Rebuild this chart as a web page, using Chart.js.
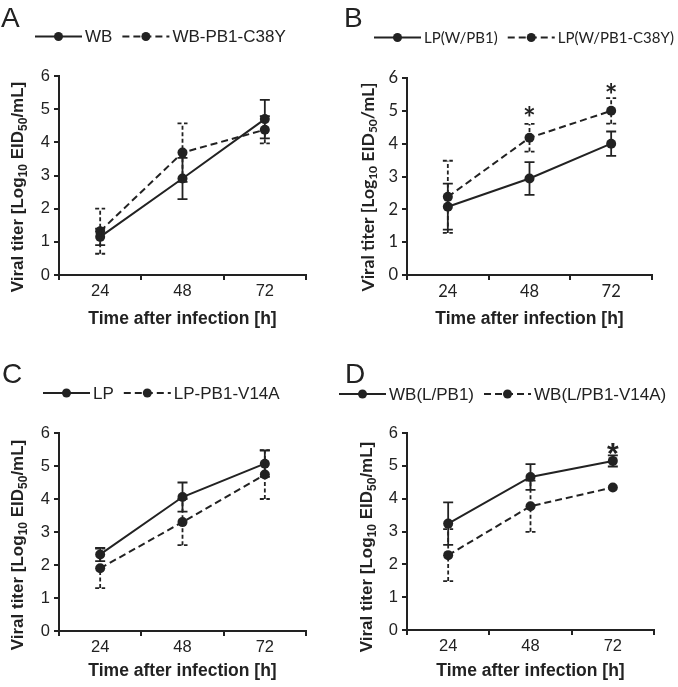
<!DOCTYPE html>
<html><head><meta charset="utf-8">
<script src="https://cdn.jsdelivr.net/npm/chart.js@4.4.1/dist/chart.umd.min.js"></script>
<style>
html,body{margin:0;padding:0;background:#fff;}
#wrap{position:relative;width:678px;height:687px;overflow:hidden;background:#fff;}
canvas{position:absolute;}
</style></head><body>
<div id="wrap">
<canvas id="cA" width="339" height="340" style="left:0;top:0"></canvas>
<canvas id="cB" width="339" height="340" style="left:339px;top:0"></canvas>
<canvas id="cC" width="339" height="347" style="left:0;top:340px"></canvas>
<canvas id="cD" width="339" height="347" style="left:339px;top:340px"></canvas>
</div>
<script>
// ---------- data ----------
const timePoints = ['24', '48', '72'];
const xAxisTitle = 'Time after infection [h]';
const yTitleParts = [['Viral titer [Log', false], ['10', true], [' EID', false], ['50', true], ['/mL]', false]];

// Panel A
const namesA = ['WB', 'WB-PB1-C38Y'];
const solidA = [1.15, 2.91, 4.70];
const solidErrA = [0.25, 0.62, 0.58];
const dashedA = [1.32, 3.69, 4.38];
const dashedErrA = [0.68, 0.88, 0.41];
const starsA = [null, null, null];

// Panel B
const namesB = ['LP(W/PB1)', 'LP(W/PB1-C38Y)'];
const solidB = [2.08, 2.94, 4.00];
const solidErrB = [0.70, 0.50, 0.37];
const dashedB = [2.38, 4.18, 5.00];
const dashedErrB = [1.10, 0.42, 0.39];
const starsB = [null, 4.99, 5.70];

// Panel C
const namesC = ['LP', 'LP-PB1-V14A'];
const solidC = [2.32, 4.06, 5.07];
const solidErrC = [0.20, 0.44, 0.40];
const dashedC = [1.90, 3.30, 4.74];
const dashedErrC = [0.60, 0.70, 0.74];
const starsC = [null, null, null];

// Panel D
const namesD = ['WB(L/PB1)', 'WB(L/PB1-V14A)'];
const solidD = [3.24, 4.66, 5.15];
const solidErrD = [0.65, 0.39, 0.17];
const dashedD = [2.28, 3.77, 4.34];
const dashedErrD = [0.79, 0.78, 0.00];
const starsD = [null, null, 5.62];

// ---------- styling ----------
const INK = '#222222';
const ARIAL = '"Liberation Sans", Arial, sans-serif';
const CALIBRI = 'Lato, "Open Sans", sans-serif';

const decorPlugin = {
  id: 'decor',
  afterDatasetsDraw(chart, args, o) {
    const ctx = chart.ctx;
    const xs = chart.scales.x, ys = chart.scales.y;
    ctx.save();
    // error bars
    chart.data.datasets.forEach(ds => {
      ctx.strokeStyle = INK;
      ctx.lineWidth = 1.8;
      ctx.setLineDash(ds.errDash);
      ds.data.forEach((v, i) => {
        const e = ds.err[i];
        if (!e) return;
        const x = xs.getPixelForValue(i);
        const yl = ys.getPixelForValue(v - e), yh = ys.getPixelForValue(v + e);
        ctx.beginPath();
        ctx.moveTo(x, yl); ctx.lineTo(x, yh);
        ctx.moveTo(x - 5, yl); ctx.lineTo(x + 5, yl);
        ctx.moveTo(x - 5, yh); ctx.lineTo(x + 5, yh);
        ctx.stroke();
      });
    });
    ctx.setLineDash([]);
    // stars
    ctx.fillStyle = INK;
    const ss = 30;
    ctx.font = 'bold ' + ss + 'px ' + o.starFont;
    ctx.textAlign = 'center';
    ctx.textBaseline = 'alphabetic';
    o.stars.forEach((s, i) => {
      if (s === null) return;
      ctx.fillText('*', xs.getPixelForValue(i), ys.getPixelForValue(s) + 0.6 * ss);
    });
    ctx.restore();
  },
  afterDraw(chart, args, o) {
    const ctx = chart.ctx;
    ctx.save();
    ctx.fillStyle = INK;
    // panel letter
    ctx.font = 'normal 28px ' + ARIAL;
    ctx.textAlign = 'left';
    ctx.textBaseline = 'alphabetic';
    ctx.fillText(o.letter, o.letterX, o.letterY);
    // legend
    ctx.font = 'normal ' + o.legendSize + 'px ' + o.legendFont;
    ctx.textBaseline = 'middle';
    let x = o.legendX;
    chart.data.datasets.forEach(ds => {
      ctx.strokeStyle = INK;
      ctx.lineWidth = 2;
      ctx.setLineDash(ds.borderDash);
      ctx.beginPath();
      ctx.moveTo(x, o.legendY); ctx.lineTo(x + 47, o.legendY);
      ctx.stroke();
      ctx.setLineDash([]);
      ctx.beginPath();
      ctx.arc(x + 23.5, o.legendY, 4.5, 0, Math.PI * 2);
      ctx.fill();
      ctx.fillText(ds.label, x + 50, o.legendY + 1);
      x += 50 + ctx.measureText(ds.label).width + 10;
    });
    // y axis title with subscripts
    const big = 'bold ' + o.yTitleSize + 'px ' + o.yTitleFont;
    const small = 'bold ' + Math.round(o.yTitleSize * 0.68) + 'px ' + o.yTitleFont;
    let total = 0;
    yTitleParts.forEach(p => { ctx.font = p[1] ? small : big; total += ctx.measureText(p[0]).width; });
    ctx.translate(o.yTitleX, o.yTitleCY);
    ctx.rotate(-Math.PI / 2);
    ctx.textBaseline = 'middle';
    let tx = -total / 2;
    yTitleParts.forEach(p => {
      ctx.font = p[1] ? small : big;
      ctx.fillText(p[0], tx, p[1] ? o.yTitleSize * 0.3 : 0);
      tx += ctx.measureText(p[0]).width;
    });
    ctx.restore();
  }
};
Chart.register(decorPlugin);

function makePanel(id, p) {
  const canvas = document.getElementById(id);
  const W = canvas.width, H = canvas.height;
  const tickFont = { family: p.tickFont, size: p.tickSize };
  return new Chart(canvas, {
    type: 'line',
    data: {
      labels: timePoints,
      datasets: [
        { label: p.names[0], data: p.solid, err: p.solidErr, errDash: [],
          borderColor: INK, backgroundColor: INK, borderWidth: 2, borderDash: [],
          pointRadius: 5, pointBackgroundColor: INK, pointBorderColor: INK, pointBorderWidth: 0, tension: 0 },
        { label: p.names[1], data: p.dashed, err: p.dashedErr, errDash: [4, 2.5],
          borderColor: INK, backgroundColor: INK, borderWidth: 2, borderDash: [7, 4],
          pointRadius: 5, pointBackgroundColor: INK, pointBorderColor: INK, pointBorderWidth: 0, tension: 0 }
      ]
    },
    options: {
      responsive: false, animation: false, devicePixelRatio: 1,
      layout: { padding: { left: 0, top: p.area.top, right: W - p.area.right, bottom: 0 } },
      plugins: {
        legend: { display: false }, tooltip: { enabled: false },
        decor: p
      },
      scales: {
        x: {
          type: 'category', offset: true,
          grid: { offset: true, drawOnChartArea: false, drawTicks: true, tickLength: 5, color: INK, lineWidth: 2 },
          border: { display: true, color: INK, width: 2 },
          ticks: { color: INK, font: tickFont, padding: 2, maxRotation: 0 },
          title: { display: true, text: xAxisTitle, color: INK,
                   font: { family: ARIAL, size: 17.5, weight: 'bold' }, padding: { top: 0, bottom: p.xTitlePad } },
          afterFit(s) { s.height = H - p.area.bottom; }
        },
        y: {
          min: 0, max: 6,
          grid: { drawOnChartArea: false, drawTicks: true, tickLength: 5, color: INK, lineWidth: 2 },
          border: { display: true, color: INK, width: 2 },
          ticks: { stepSize: 1, color: INK, font: tickFont, padding: 4 },
          afterFit(s) { s.width = p.area.left; }
        }
      }
    }
  });
}

makePanel('cA', {
  names: namesA, solid: solidA, solidErr: solidErrA, dashed: dashedA, dashedErr: dashedErrA, stars: starsA,
  area: { left: 59, top: 76, right: 306, bottom: 275 }, xTitlePad: 10,
  letter: 'A', letterX: 1, letterY: 27,
  legendX: 35, legendY: 36.5, legendFont: ARIAL, legendSize: 17,
  tickFont: ARIAL, tickSize: 16.5, starFont: ARIAL,
  yTitleX: 18.5, yTitleCY: 187, yTitleFont: ARIAL, yTitleSize: 17
});
makePanel('cB', {
  names: namesB, solid: solidB, solidErr: solidErrB, dashed: dashedB, dashedErr: dashedErrB, stars: starsB,
  area: { left: 68, top: 78, right: 313, bottom: 275 }, xTitlePad: 10,
  letter: 'B', letterX: 5, letterY: 27,
  legendX: 35, legendY: 37.5, legendFont: CALIBRI, legendSize: 15,
  tickFont: CALIBRI, tickSize: 16.5, starFont: CALIBRI,
  yTitleX: 29, yTitleCY: 187, yTitleFont: CALIBRI, yTitleSize: 17.5
});
makePanel('cC', {
  names: namesC, solid: solidC, solidErr: solidErrC, dashed: dashedC, dashedErr: dashedErrC, stars: starsC,
  area: { left: 59, top: 93, right: 306, bottom: 291 }, xTitlePad: 5,
  letter: 'C', letterX: 2, letterY: 43,
  legendX: 43, legendY: 53, legendFont: ARIAL, legendSize: 17,
  tickFont: ARIAL, tickSize: 16.5, starFont: ARIAL,
  yTitleX: 18.5, yTitleCY: 205, yTitleFont: ARIAL, yTitleSize: 17
});
makePanel('cD', {
  names: namesD, solid: solidD, solidErr: solidErrD, dashed: dashedD, dashedErr: dashedErrD, stars: starsD,
  area: { left: 68, top: 93, right: 315, bottom: 290 }, xTitlePad: 5,
  letter: 'D', letterX: 6, letterY: 43,
  legendX: 0, legendY: 54, legendFont: ARIAL, legendSize: 17,
  tickFont: ARIAL, tickSize: 16.5, starFont: ARIAL,
  yTitleX: 28.5, yTitleCY: 207, yTitleFont: ARIAL, yTitleSize: 17
});
</script>
</body></html>
